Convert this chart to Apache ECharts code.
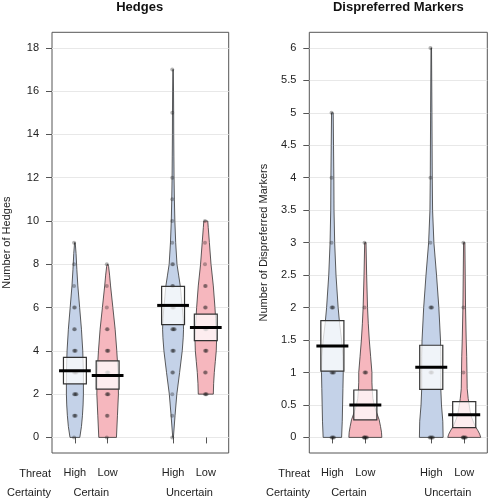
<!DOCTYPE html>
<html>
<head>
<meta charset="utf-8">
<script src="https://cdn.jsdelivr.net/npm/echarts@6/dist/echarts.min.js"></script>
<style>html,body{margin:0;padding:0;background:#fff}#main{width:489px;height:500px}</style>
</head>
<body>
<div id="main"></div>
<script>
// ---------- data ----------
const threatLevels = ['High', 'Low', 'High', 'Low'];
const certaintyLevels = ['Certain', 'Uncertain'];
const beanX = [1, 2, 4, 5];
const groupX = [1.5, 4.5];

const hedgesTicks = [0, 2, 4, 6, 8, 10, 12, 14, 16, 18];
const markersTicks = [0, 0.5, 1, 1.5, 2, 2.5, 3, 3.5, 4, 4.5, 5, 5.5, 6];

// means and inference bands (box low / high)
const hedgesMean = [3.08, 2.86, 6.10, 5.08];
const hedgesBoxLow = [2.47, 2.23, 5.21, 4.47];
const hedgesBoxHigh = [3.70, 3.54, 6.98, 5.70];
const markersMean = [1.41, 0.50, 1.08, 0.35];
const markersBoxLow = [1.02, 0.27, 0.74, 0.15];
const markersBoxHigh = [1.80, 0.73, 1.42, 0.55];

// violin half-widths (x units) at value levels: [value, halfWidth]
const hedgesHighCertainDensity = [[0,0.15],[0.5,0.2],[1,0.23],[1.5,0.25],[2,0.26],[3,0.26],[4,0.24],[5,0.2],[6,0.145],[7,0.09],[7.75,0.06],[8.5,0.035],[9,0.01]];
const hedgesLowCertainDensity = [[0,0.27],[1,0.3],[2,0.33],[3,0.32],[4,0.28],[5,0.23],[6,0.16],[7,0.09],[7.5,0.06],[7.9,0.03],[8,0.01]];
const hedgesHighUncertainDensity = [[0,0.01],[1,0.06],[2,0.115],[3,0.2],[4,0.28],[4.6,0.31],[5,0.32],[5.5,0.31],[6,0.28],[6.5,0.25],[7,0.22],[7.5,0.17],[8,0.12],[9,0.08],[10,0.055],[11,0.04],[12,0.03],[13,0.025],[14,0.02],[15,0.018],[16,0.014],[17,0.006]];
const hedgesLowUncertainDensity = [[2,0.23],[2.5,0.24],[3,0.26],[3.5,0.29],[4,0.32],[4.5,0.33],[5,0.32],[5.5,0.3],[6,0.28],[7,0.23],[8,0.16],[9,0.11],[9.7,0.075],[10,0.06]];

const markersHighCertainDensity = [[0,0.28],[0.25,0.3],[0.5,0.31],[0.75,0.32],[1,0.33],[1.25,0.32],[1.5,0.28],[1.75,0.22],[2,0.175],[2.5,0.11],[3,0.07],[3.5,0.05],[4,0.045],[4.5,0.035],[5,0.025]];
const markersLowCertainDensity = [[0,0.5],[0.08,0.49],[0.17,0.46],[0.27,0.42],[0.4,0.33],[0.5,0.27],[0.6,0.23],[0.73,0.21],[0.85,0.2],[1,0.2],[1.25,0.16],[1.5,0.12],[1.75,0.09],[2,0.067],[2.5,0.04],[3,0.02]];
const markersHighUncertainDensity = [[0,0.36],[0.25,0.35],[0.5,0.31],[0.75,0.29],[1,0.29],[1.25,0.29],[1.5,0.28],[2,0.23],[2.5,0.16],[3,0.08],[3.5,0.04],[4,0.03],[5,0.02],[6,0.008]];
const markersLowUncertainDensity = [[0,0.5],[0.05,0.47],[0.1,0.42],[0.15,0.36],[0.2,0.31],[0.3,0.23],[0.4,0.18],[0.5,0.15],[0.6,0.12],[0.75,0.09],[1,0.083],[1.25,0.075],[1.5,0.06],[2,0.04],[2.5,0.03],[3,0.02]];

// raw observations (approximate, read from dot darkness)
const hedgesHighCertainPoints = [0,1,1,1,2,2,2,2,3,3,3,3,4,4,4,5,5,6,6,7,8,9];
const hedgesLowCertainPoints = [0,1,1,2,2,2,3,3,3,4,4,4,5,5,6,7,8];
const hedgesHighUncertainPoints = [0,1,2,3,3,4,4,4,5,5,5,5,6,6,6,7,7,8,8,9,10,11,12,15,17];
const hedgesLowUncertainPoints = [2,2,2,3,3,4,4,4,5,5,5,6,6,7,7,8,9,10];
const markersHighCertainPoints = [0,0,0,0,1,1,1,1,2,2,2,3,4,5];
const markersLowCertainPoints = [0,0,0,0,0,0,1,1,1,2,3];
const markersHighUncertainPoints = [0,0,0,0,0,1,1,1,2,2,2,3,4,6];
const markersLowUncertainPoints = [0,0,0,0,0,0,1,2,3];

// ---------- styling ----------
const FONT = 'Liberation Sans, Arial, Helvetica, sans-serif';
const FS = 11;
const BLUE = '#c4d2e8';
const PINK = '#f6b7be';
const beanColors = [BLUE, PINK, BLUE, PINK];

const hedgesDensities = [hedgesHighCertainDensity, hedgesLowCertainDensity, hedgesHighUncertainDensity, hedgesLowUncertainDensity];
const markersDensities = [markersHighCertainDensity, markersLowCertainDensity, markersHighUncertainDensity, markersLowUncertainDensity];
const hedgesPoints = [hedgesHighCertainPoints, hedgesLowCertainPoints, hedgesHighUncertainPoints, hedgesLowUncertainPoints];
const markersPoints = [markersHighCertainPoints, markersLowCertainPoints, markersHighUncertainPoints, markersLowUncertainPoints];

function violinSeries(gi, densities) {
  return {
    type: 'custom', xAxisIndex: gi * 2, yAxisIndex: gi, z: 1, silent: true,
    data: beanX.map((x, i) => [i, x]),
    renderItem: function (params, api) {
      const i = api.value(0), cx = api.value(1);
      const prof = densities[i];
      const pts = [];
      for (let k = 0; k < prof.length; k++) pts.push(api.coord([cx + prof[k][1], prof[k][0]]));
      for (let k = prof.length - 1; k >= 0; k--) pts.push(api.coord([cx - prof[k][1], prof[k][0]]));
      return { type: 'polygon', shape: { points: pts }, style: { fill: beanColors[i], stroke: '#333', lineWidth: 0.8 } };
    }
  };
}

function pointSeries(gi, pointsList) {
  const data = [];
  pointsList.forEach((vals, i) => {
    const counts = {};
    vals.forEach(v => {
      const k = counts[v] = (counts[v] || 0) + 1;
      data.push([beanX[i] + ((k % 5) - 2) * 0.025, v]);
    });
  });
  return {
    type: 'scatter', xAxisIndex: gi * 2, yAxisIndex: gi, z: 2, silent: true,
    symbol: 'circle', symbolSize: 4,
    itemStyle: { color: 'rgba(25,25,25,0.4)' },
    data: data
  };
}

function boxSeries(gi, lows, highs) {
  return {
    type: 'custom', xAxisIndex: gi * 2, yAxisIndex: gi, z: 3, silent: true,
    data: beanX.map((x, i) => [x, lows[i], highs[i]]),
    renderItem: function (params, api) {
      const x = api.value(0);
      const p1 = api.coord([x - 0.35, api.value(2)]);
      const p2 = api.coord([x + 0.35, api.value(1)]);
      return { type: 'rect', shape: { x: p1[0], y: p1[1], width: p2[0] - p1[0], height: p2[1] - p1[1] },
        style: { fill: 'rgba(255,255,255,0.75)', stroke: '#333', lineWidth: 1.2 } };
    }
  };
}

function meanSeries(gi, means) {
  return {
    type: 'custom', xAxisIndex: gi * 2, yAxisIndex: gi, z: 4, silent: true,
    data: beanX.map((x, i) => [x, means[i]]),
    renderItem: function (params, api) {
      const x = api.value(0), m = api.value(1);
      const a = api.coord([x - 0.485, m]);
      const b = api.coord([x + 0.485, m]);
      return { type: 'line', shape: { x1: a[0], y1: a[1], x2: b[0], y2: b[1] }, style: { stroke: '#000', lineWidth: 3 } };
    }
  };
}

const labelStyle = { fontFamily: FONT, fontSize: FS, color: '#222' };

function xAxes(gi) {
  return [
    { gridIndex: gi, type: 'value', min: 0.3, max: 5.7, position: 'bottom',
      axisLine: { show: false }, splitLine: { show: false },
      axisTick: { show: true, customValues: beanX, length: 6, lineStyle: { color: '#555' } },
      axisLabel: Object.assign({ customValues: beanX, margin: 14, formatter: v => threatLevels[beanX.indexOf(v)] }, labelStyle) },
    { gridIndex: gi, type: 'value', min: 0.3, max: 5.7, position: 'bottom',
      axisLine: { show: false }, splitLine: { show: false }, axisTick: { show: false },
      axisLabel: Object.assign({ customValues: groupX, margin: 34, formatter: v => certaintyLevels[groupX.indexOf(v)] }, labelStyle) }
  ];
}

function yAxis(gi, min, max, ticks, name) {
  return { gridIndex: gi, type: 'value', min: min, max: max,
    name: name, nameLocation: 'middle', nameGap: 40,
    nameTextStyle: { fontFamily: FONT, fontSize: FS, color: '#222' },
    axisLine: { show: false },
    axisTick: { show: true, customValues: ticks, length: 6, lineStyle: { color: '#555' } },
    axisLabel: Object.assign({ customValues: ticks, margin: 13, formatter: v => String(v) }, labelStyle),
    splitLine: { show: true, lineStyle: { color: '#e8e8e8', width: 1 } } };
}

const chart = echarts.init(document.getElementById('main'), null, { renderer: 'canvas' });
chart.setOption({
  animation: false,
  backgroundColor: '#fff',
  grid: [
    { left: 50.7, top: 32.3, width: 178, height: 420.7, show: true, borderColor: '#555', borderWidth: 1, backgroundColor: 'transparent' },
    { left: 309.3, top: 32.3, width: 178, height: 420.7, show: true, borderColor: '#555', borderWidth: 1, backgroundColor: 'transparent' }
  ],
  xAxis: xAxes(0).concat(xAxes(1)),
  yAxis: [
    yAxis(0, -0.72, 18.72, hedgesTicks, 'Number of Hedges'),
    yAxis(1, -0.24, 6.24, markersTicks, 'Number of Dispreferred Markers')
  ],
  series: [
    violinSeries(0, hedgesDensities), pointSeries(0, hedgesPoints), boxSeries(0, hedgesBoxLow, hedgesBoxHigh), meanSeries(0, hedgesMean),
    violinSeries(1, markersDensities), pointSeries(1, markersPoints), boxSeries(1, markersBoxLow, markersBoxHigh), meanSeries(1, markersMean)
  ],
  graphic: [
    { type: 'text', x: 139.7, y: 7, style: { text: 'Hedges', align: 'center', verticalAlign: 'middle', font: 'bold 13px ' + FONT, fill: '#111' } },
    { type: 'text', x: 398.3, y: 7, style: { text: 'Dispreferred Markers', align: 'center', verticalAlign: 'middle', font: 'bold 13px ' + FONT, fill: '#111' } },
    { type: 'text', x: 51, y: 473.5, style: { text: 'Threat', align: 'right', verticalAlign: 'middle', font: FS + 'px ' + FONT, fill: '#222' } },
    { type: 'text', x: 51, y: 493, style: { text: 'Certainty', align: 'right', verticalAlign: 'middle', font: FS + 'px ' + FONT, fill: '#222' } },
    { type: 'text', x: 310, y: 473.5, style: { text: 'Threat', align: 'right', verticalAlign: 'middle', font: FS + 'px ' + FONT, fill: '#222' } },
    { type: 'text', x: 310, y: 493, style: { text: 'Certainty', align: 'right', verticalAlign: 'middle', font: FS + 'px ' + FONT, fill: '#222' } }
  ]
});
</script>
</body>
</html>
